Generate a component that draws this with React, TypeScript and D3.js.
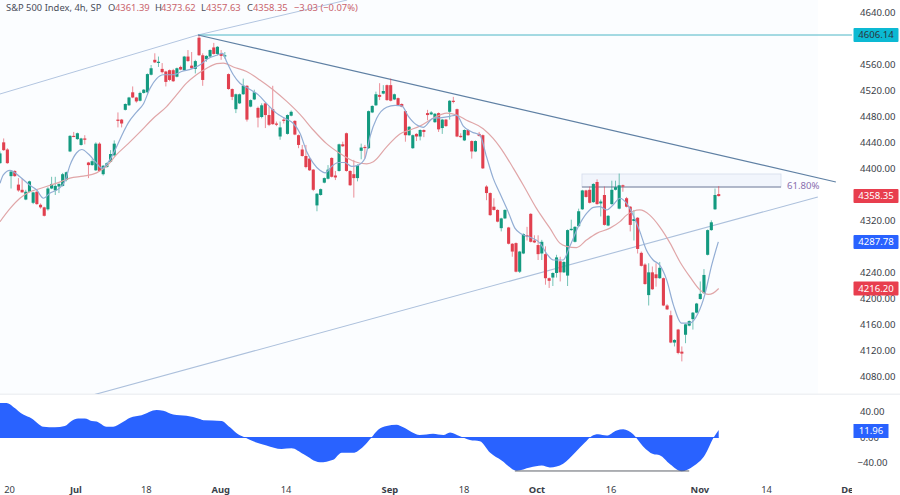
import React from "react";
import * as d3 from "d3";

const opens = [
  4409,4441,4430,4389,4397,4376,4368,4353,4365,4348,
  4365,4345,4341,4338,4370,4367,4373,4374,4383,4427,
  4451,4446,4437,4447,4410,4406,4398,4439,4392,4403,
  4411,4421,4476,4476,4491,4498,4518,4510,4505,4517,
  4518,4545,4568,4564,4554,4550,4552,4552,4542,4557,
  4552,4573,4559,4554,4602,4575,4569,4573,4587,4577,
  4577,4574,4546,4523,4492,4501,4515,4528,4496,4507,
  4494,4480,4501,4483,4492,4470,4450,4476,4454,4482,
  4474,4452,4430,4420,4416,4399,4344,4360,4379,4385,
  4417,4390,4397,4438,4455,4397,4392,4386,4428,4434,
  4432,4487,4498,4514,4516,4529,4529,4507,4509,4500,
  4489,4452,4432,4454,4450,4460,4486,4484,4472,4486,
  4463,4476,4488,4505,4492,4451,4444,4460,4443,4427,
  4454,4452,4373,4363,4342,4337,4309,4324,4310,4285,
  4286,4242,4270,4298,4331,4290,4283,4270,4269,4232,
  4233,4240,4258,4241,4236,4306,4288,4312,4338,4367,
  4368,4349,4380,4347,4360,4313,4346,4368,4339,4375,
  4355,4342,4320,4325,4271,4253,4206,4241,4238,4232,
  4232,4190,4175,4133,4153,4119,4145,4159,4169,4179,
  4200,4209,4268,4306,4338,4361.39,
];
const closes = [
  4424,4429,4409,4396,4389,4367,4364,4365,4381,4364,
  4346,4341,4328,4370,4377,4374,4377,4392,4395,4451,
  4450,4455,4447,4445,4406,4412,4439,4397,4405,4409,
  4423,4439,4474,4470,4500,4510,4510,4504,4517,4522,
  4546,4555,4564,4565,4549,4534,4537,4535,4555,4553,
  4573,4566,4555,4566,4575,4537,4574,4583,4577,4588,
  4574,4575,4523,4511,4515,4515,4528,4476,4506,4518,
  4479,4498,4483,4468,4469,4468,4464,4474,4483,4488,
  4453,4437,4420,4403,4398,4368,4362,4369,4386,4399,
  4388,4387,4438,4435,4397,4375,4386,4406,4433,4433,
  4489,4497,4515,4511,4520,4506,4505,4515,4498,4496,
  4452,4465,4452,4450,4460,4457,4483,4487,4485,4461,
  4476,4466,4505,4504,4450,4449,4460,4452,4427,4443,
  4451,4401,4363,4329,4337,4319,4324,4337,4285,4273,
  4242,4273,4300,4297,4288,4287,4269,4288,4232,4228,
  4240,4264,4241,4257,4306,4308,4311,4335,4367,4357,
  4348,4377,4346,4350,4314,4328,4368,4372,4375,4373,
  4342,4314,4323,4277,4251,4223,4241,4215,4232,4248,
  4190,4184,4133,4137,4117,4116,4161,4166,4179,4193,
  4208,4237,4306,4318,4360,4358.35,
];
const highs = [
  4427,4447,4432,4398,4398,4386,4385,4368,4382,4365,
  4366,4347,4342,4372,4388,4388,4378,4394,4396,4452,
  4457,4456,4448,4452,4411,4415,4441,4441,4406,4410,
  4429,4444,4487,4477,4501,4511,4527,4511,4519,4523,
  4547,4560,4578,4573,4563,4551,4553,4554,4556,4559,
  4574,4583,4580,4568,4606,4578,4575,4584,4594,4589,
  4583,4580,4547,4524,4516,4516,4539,4529,4507,4522,
  4496,4501,4502,4496,4528,4473,4473,4480,4484,4490,
  4475,4453,4437,4437,4417,4400,4363,4370,4387,4406,
  4418,4397,4439,4442,4456,4398,4414,4407,4439,4437,
  4490,4498,4519,4532,4529,4530,4539,4516,4510,4501,
  4490,4466,4453,4455,4461,4461,4491,4489,4486,4487,
  4477,4477,4506,4511,4493,4455,4461,4461,4444,4444,
  4457,4453,4375,4364,4355,4338,4325,4338,4311,4286,
  4287,4274,4301,4311,4332,4298,4298,4291,4281,4233,
  4241,4268,4265,4258,4307,4322,4312,4339,4368,4368,
  4373,4378,4384,4353,4373,4329,4382,4382,4393,4376,
  4357,4343,4337,4326,4273,4255,4255,4250,4255,4257,
  4233,4192,4182,4138,4154,4127,4162,4167,4180,4194,
  4227,4246,4307,4321,4370,4373.62,
];
const lows = [
  4408,4428,4408,4370,4388,4365,4364,4352,4364,4346,
  4345,4339,4327,4336,4369,4360,4363,4373,4381,4426,
  4449,4445,4436,4438,4386,4405,4397,4396,4390,4402,
  4410,4419,4464,4464,4490,4497,4509,4502,4504,4516,
  4516,4544,4563,4557,4547,4527,4535,4534,4541,4552,
  4551,4565,4554,4547,4574,4528,4565,4572,4576,4575,
  4568,4570,4522,4506,4486,4500,4514,4473,4495,4506,
  4464,4478,4463,4466,4468,4466,4445,4470,4453,4481,
  4452,4432,4419,4401,4397,4366,4335,4359,4378,4384,
  4387,4383,4396,4434,4396,4374,4356,4381,4415,4416,
  4431,4486,4497,4506,4515,4505,4504,4506,4497,4495,
  4442,4451,4431,4443,4444,4449,4475,4483,4471,4457,
  4454,4465,4476,4501,4449,4448,4443,4451,4416,4426,
  4450,4400,4352,4328,4336,4318,4304,4323,4284,4265,
  4241,4240,4269,4290,4287,4286,4260,4260,4222,4217,
  4220,4233,4227,4240,4220,4305,4287,4311,4337,4356,
  4347,4348,4345,4327,4313,4312,4345,4367,4338,4365,
  4341,4304,4290,4270,4250,4222,4190,4214,4219,4231,
  4189,4183,4132,4127,4115,4104,4132,4158,4153,4178,
  4199,4208,4267,4305,4337,4357.63,
];

const fastIdx = [0,0.9,2.7,5.4,8.1,9.9,11.8,13.6,15.8,17.6,19,20.8,22.2,24,26.2,27.6,29.8,31.6,33.5,34.8,37.1,38.9,40.7,42.5,44.3,47,49.3,52,54.2,56.5,58.8,60.4,61.5,63.3,65.1,67.4,70.1,72.3,75,77.3,79.6,81.4,83.2,85,86.8,88.2,90,91.8,93.6,95.4,97.2,99,100.4,102.2,104.9,107.2,109,110.8,113,114.8,117.5,119.8,122.1,123.9,125.7,128,130.2,132,133.8,135.6,137.9,139.7,141.5,143.8,146.5,148.3,150.1,152.8,154.6,156.9,159.2,161,162.8,164.6,166.4,168.2,170,171.8,173.6,175.4,177.2,179,180.9,182.7,184.9,187.2,189.4,191.2,193.1,194.9];
const fastVal = [4378,4391,4398,4388,4375,4368,4355,4363,4369,4381,4406,4425,4430,4423,4409,4401,4414,4434,4457,4471,4488,4500,4524,4539,4545,4545,4550,4554,4560,4570,4575,4578,4565,4545,4532,4524,4514,4501,4486,4478,4470,4455,4427,4409,4398,4394,4404,4410,4410,4404,4406,4416,4450,4478,4495,4498,4497,4481,4468,4464,4478,4479,4481,4483,4466,4457,4452,4419,4386,4363,4334,4309,4300,4295,4286,4270,4260,4260,4281,4311,4332,4341,4342,4337,4345,4355,4347,4329,4304,4275,4260,4252,4229,4191,4163,4163,4178,4206,4252,4287.78];
const slowIdx = [0,2.7,5.4,8.1,10.9,13.6,16.7,19,22.6,26.2,28.9,31.6,34.8,38,41.6,45.2,47.9,50.6,53.3,56.1,58.8,60.6,63.3,66.9,70.5,74.1,77.8,81.4,85,88.6,92.2,95.9,99.5,101.3,104.9,108.5,111.2,113.9,117.5,121.2,123.9,126.6,131.1,133.8,135.6,139.3,142,145.6,149.2,151.9,153.7,156.4,159.2,161.9,165.5,168.2,170,171.8,173.6,176.3,179,181.8,184.5,187.2,189.9,192.2,193.5,195];
const slowVal = [4319,4339,4355,4365,4370,4375,4381,4386,4389,4394,4404,4422,4439,4457,4478,4496,4514,4532,4545,4555,4562,4563,4557,4550,4537,4522,4504,4484,4460,4439,4424,4412,4408,4411,4434,4454,4460,4466,4478,4486,4483,4475,4462,4447,4434,4401,4375,4339,4309,4286,4281,4279,4291,4301,4309,4319,4329,4335,4337,4329,4311,4286,4257,4234,4214,4207,4209,4216.2];
const oscIdx = [0,1.8,3.6,6.3,8.6,11.8,14.9,17.6,19.4,21.2,23,24.9,26.2,28.9,30.7,33,35.3,38.4,42.5,44.3,47,50.6,54.2,55.2,60.1,62.4,64.6,66.5,68.7,72.3,76.4,79.1,82.3,86.8,90.4,92.7,95.8,98.6,100.8,102.6,104.9,107.6,109.4,113.9,117.5,120.3,122.1,124.8,127.5,130.2,133,136.1,140.2,143.8,147,149.2,152.8,156,158.7,160.5,162.3,164.6,167.3,169.1,171.8,174.5,177.2,179,181.8,184.9,188.1,191.3,193.5,195];
const oscVal = [54,54,48,36,30,17,16,18,26,30,30,26,25,17,17,23,31,35,43,42,36,34,29,27,26,16,5,0,-6,-12.5,-18,-17,-26,-39,-35,-24,-24,-14,0,12,18,20,16,4,6,4,8,2,-4,-6,-24,-36,-52,-47,-44,-47,-41,-24,-8,2,5,3,11,13,5,-14,-26,-28,-42,-53,-45,-27,-1,11.96];

const priceTicks = [4640,4600,4560,4520,4480,4440,4400,4320,4240,4200,4160,4120,4080];
const oscTicks = [40,0,-40];
const timeLabels = ["20","Jul","18","Aug","14","Sep","18","Oct","16","Nov","14","Dec"];
const timeIdx = [2.6,20.6,39.7,59.9,77.6,105.8,125.9,145.7,165.8,189.9,208,230.6];
const timeBold = [false,true,false,true,false,true,false,true,false,true,false,true];

const upperRiseIdx = [0,53.7,94.2];
const upperRiseVal = [4515.4,4606.14,4660];
const lowerRiseIdx = [25,221.9];
const lowerRiseVal = [4052,4357];
const downIdx = [53.7,226.8];
const downVal = [4606.14,4380];
const resistance = 4606.14;
const fibIdx = [157.9,211.9];
const fibVal = [4392.3,4372.3];
const troughIdx = [139.7,187];
const troughVal = -52.5;
const lastPrice = 4358.35;
const fastLast = 4287.78;
const slowLast = 4216.2;
const oscLast = 11.96;

const GREEN = "#139a80";
const RED = "#e1404f";
const BLUE = "#2962ff";
const FONT = "'Noto Sans', 'Open Sans', sans-serif";
const AXIS_INK = "#3a3e48";
const HEADER_INK = "#c9636c";

const x = d3.scaleLinear().domain([0, 195]).range([0, 718.7]);
const y = d3.scaleLinear().domain([4640, 4080]).range([13, 377]);
const oy = d3.scaleLinear().domain([40, -40]).range([412, 463]);

const priceLine = (xs: number[], vs: number[], curve: d3.CurveFactory = d3.curveLinear) =>
  d3
    .line<number>()
    .x((_, i) => x(xs[i]))
    .y((_, i) => y(vs[i]))
    .curve(curve)(xs.map((_, i) => i)) as string;

const oscArea = d3
  .area<number>()
  .x((_, i) => x(oscIdx[i]))
  .y0(oy(0))
  .y1((_, i) => oy(oscVal[i]))
  .curve(d3.curveMonotoneX)(oscVal) as string;

function PriceTag({ cy, text, fill, ink, w = 45 }: { cy: number; text: string; fill: string; ink: string; w?: number }) {
  return (
    <g>
      <rect x={853.5} y={cy - 7} width={w} height={14} rx={1} fill={fill} />
      <text x={853.5 + w / 2} y={cy + 3.4} textAnchor="middle" fontSize={9.6} fill={ink} fontFamily={FONT}>
        {text}
      </text>
    </g>
  );
}

export default function App() {
  const bodyW = 3.1;
  return (
    <svg
      width={900}
      height={495}
      viewBox="0 0 900 495"
      style={{ position: "absolute", left: 0, top: 0, display: "block", background: "#fff" }}
    >
      <defs>
        <clipPath id="plot">
          <rect x={0} y={0} width={852} height={394} />
        </clipPath>
        <clipPath id="timeClip">
          <rect x={0} y={476} width={852} height={19} />
        </clipPath>
      </defs>
      <rect x={0} y={0} width={818} height={394} fill="#fbfdff" />
      <rect x={0} y={393.5} width={900} height={1.5} fill="#eff1f4" />

      <g clipPath="url(#plot)">
        {/* Fibonacci band */}
        <rect
          x={x(fibIdx[0])}
          y={y(fibVal[0])}
          width={x(fibIdx[1]) - x(fibIdx[0])}
          height={y(fibVal[1]) - y(fibVal[0])}
          fill="#f1f5fc"
          stroke="#d4dcec"
          strokeWidth={0.8}
        />
        <line
          x1={x(fibIdx[0])}
          x2={x(fibIdx[1])}
          y1={y(fibVal[1])}
          y2={y(fibVal[1])}
          stroke="#77809c"
          strokeWidth={1}
        />
        {/* Trend lines */}
        <path d={priceLine(upperRiseIdx, upperRiseVal)} fill="none" stroke="#b2c5e0" strokeWidth={1} />
        <path d={priceLine(lowerRiseIdx, lowerRiseVal)} fill="none" stroke="#acc0dc" strokeWidth={1.1} />
        <line
          x1={x(downIdx[0])}
          x2={852}
          y1={y(resistance)}
          y2={y(resistance)}
          stroke="#4cb6c6"
          strokeWidth={1}
        />
        <path d={priceLine(downIdx, downVal)} fill="none" stroke="#5f80a4" strokeWidth={1.2} />

        {/* Candles */}
        {opens.map((o, i) => {
          const c = closes[i];
          const up = c >= o;
          const color = up ? GREEN : RED;
          const top = y(Math.max(o, c));
          const bot = y(Math.min(o, c));
          return (
            <g key={i}>
              <line
                x1={x(i)}
                x2={x(i)}
                y1={y(highs[i])}
                y2={y(lows[i])}
                stroke={color}
                strokeOpacity={0.65}
                strokeWidth={0.9}
              />
              <rect x={x(i) - bodyW / 2} y={top} width={bodyW} height={Math.max(bot - top, 1.2)} fill={color} />
            </g>
          );
        })}

        {/* Moving averages */}
        <path d={priceLine(slowIdx, slowVal, d3.curveMonotoneX)} fill="none" stroke="#e0a6a8" strokeWidth={1.2} />
        <path d={priceLine(fastIdx, fastVal, d3.curveMonotoneX)} fill="none" stroke="#92add4" strokeWidth={1.2} />
      </g>

      <text x={787} y={189} fontSize={9.6} fill="#8a6fae" fontFamily={FONT}>
        61.80%
      </text>

      {/* Header */}
      <g fontFamily={FONT} fontSize={9.4}>
        <text x={6} y={11} fill="#4a4e5a">S&amp;P 500 Index, 4h, SP</text>
        <text x={108} y={11} fill="#4a4e5a">O</text>
        <text x={115} y={11} fill={HEADER_INK}>4361.39</text>
        <text x={155} y={11} fill="#4a4e5a">H</text>
        <text x={161} y={11} fill={HEADER_INK}>4373.62</text>
        <text x={201} y={11} fill="#4a4e5a">L</text>
        <text x={206} y={11} fill={HEADER_INK}>4357.63</text>
        <text x={247} y={11} fill="#4a4e5a">C</text>
        <text x={253} y={11} fill={HEADER_INK}>4358.35</text>
        <text x={294} y={11} fill={HEADER_INK}>−3.03 (−0.07%)</text>
      </g>

      {/* Oscillator */}
      <path d={oscArea} fill={BLUE} />
      <line x1={0} x2={x(195)} y1={oy(0)} y2={oy(0)} stroke={BLUE} strokeWidth={1} />
      <line
        x1={x(troughIdx[0])}
        x2={x(troughIdx[1])}
        y1={oy(troughVal)}
        y2={oy(troughVal)}
        stroke="#5f636b"
        strokeWidth={1}
      />

      {/* Price axis */}
      <g fontFamily={FONT} fontSize={9.6} fill={AXIS_INK}>
        {priceTicks.map((t) => (
          <text key={t} x={860} y={y(t) + 3.4}>
            {d3.format(".2f")(t)}
          </text>
        ))}
        {oscTicks.map((t) => (
          <text key={t} x={t < 0 ? 857.5 : 860} y={oy(t) + 3.4}>
            {d3.format(".2f")(t).replace("-", "−")}
          </text>
        ))}
      </g>
      <PriceTag cy={y(resistance)} text="4606.14" fill="#0cb9d3" ink="#2a3540" />
      <PriceTag cy={y(lastPrice)} text={d3.format(".2f")(lastPrice)} fill="#e83e4e" ink="#fff" />
      <PriceTag cy={y(fastLast)} text={d3.format(".2f")(fastLast)} fill={BLUE} ink="#fff" />
      <PriceTag cy={y(slowLast)} text={d3.format(".2f")(slowLast)} fill="#e83e4e" ink="#fff" />
      <rect x={853.5} y={424} width={35} height={14} fill={BLUE} />
      <text x={871} y={434.4} textAnchor="middle" fontSize={9.6} fill="#fff" fontFamily={FONT}>
        {oscLast}
      </text>

      {/* Time axis */}
      <g clipPath="url(#timeClip)" fontFamily={FONT} fontSize={9.4} fill={AXIS_INK} textAnchor="middle">
        {timeLabels.map((t, i) => (
          <text key={i} x={x(timeIdx[i])} y={493} fontWeight={timeBold[i] ? 700 : 400}>
            {t}
          </text>
        ))}
      </g>
    </svg>
  );
}
